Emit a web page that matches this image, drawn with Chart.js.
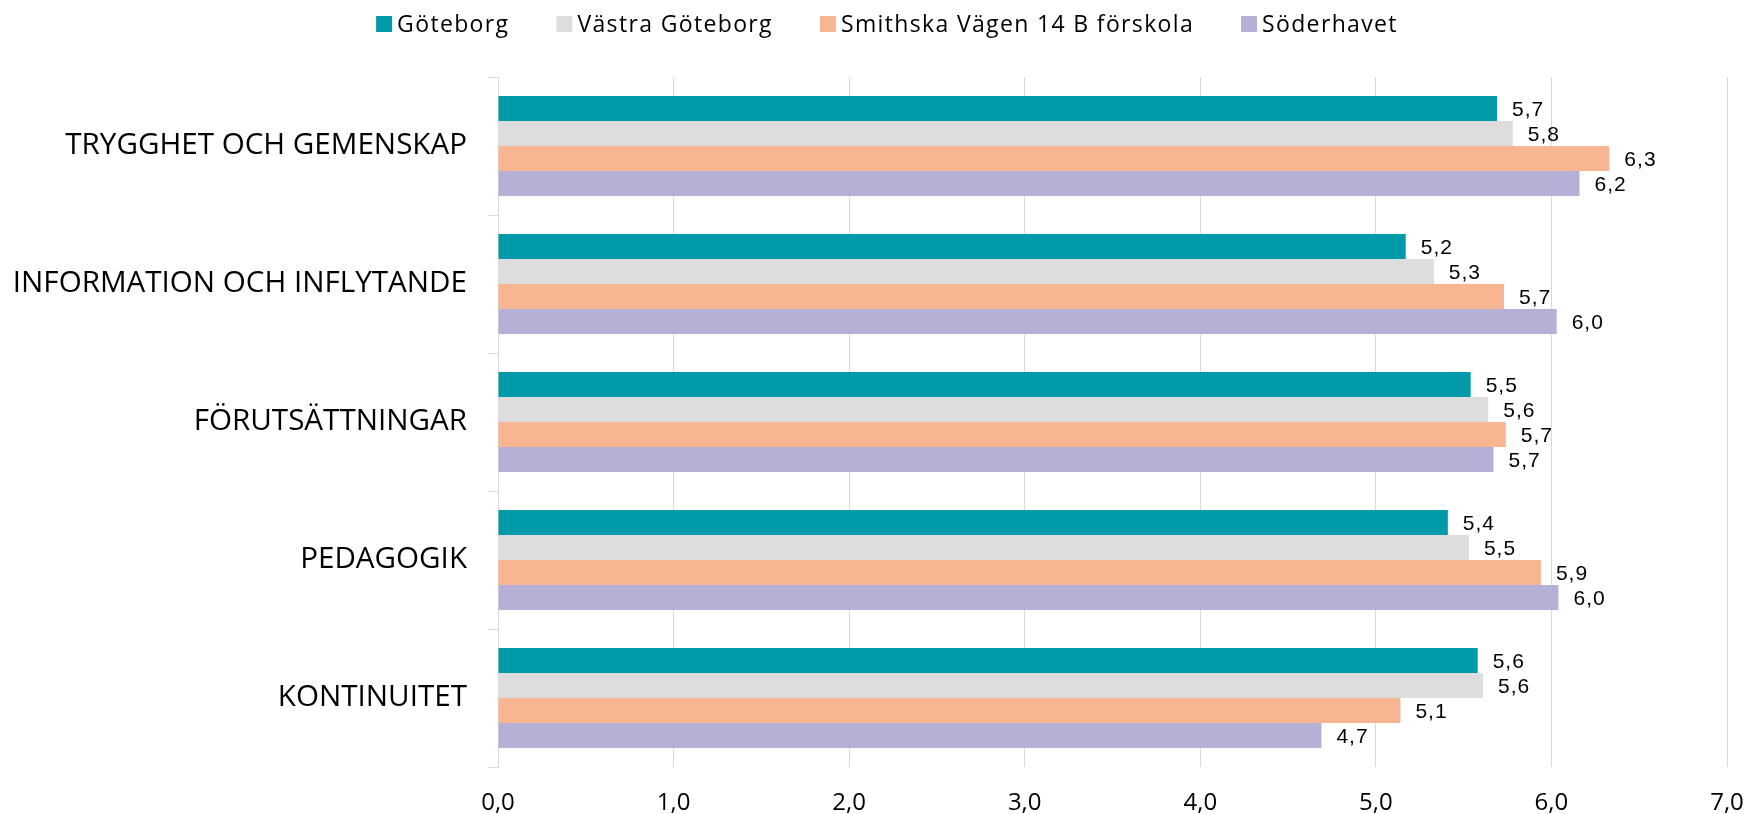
<!DOCTYPE html>
<html>
<head>
<meta charset="utf-8">
<script src="https://cdn.jsdelivr.net/npm/chart.js@4.4.1/dist/chart.umd.min.js"></script>
<style>
  body { margin: 0; background: #fff; }
  #wrap { width: 1746px; height: 814px; }
</style>
</head>
<body>
<div id="wrap"><canvas id="myChart"></canvas></div>
<script>
var categories = ['TRYGGHET OCH GEMENSKAP', 'INFORMATION OCH INFLYTANDE', 'FÖRUTSÄTTNINGAR', 'PEDAGOGIK', 'KONTINUITET'];
var seriesNames = ['Göteborg', 'Västra Göteborg', 'Smithska Vägen 14 B förskola', 'Söderhavet'];
var goteborg = [5.69, 5.17, 5.54, 5.41, 5.58];
var vastraGoteborg = [5.78, 5.33, 5.64, 5.53, 5.61];
var smithska = [6.33, 5.73, 5.74, 5.94, 5.14];
var soderhavet = [6.16, 6.03, 5.67, 6.04, 4.69];
var xTicks = [0, 1, 2, 3, 4, 5, 6, 7];
var colors = ['#009aa8', '#dddddd', '#f8b592', '#b5b0d5'];

function fmt(v) {
    return v.toFixed(1).replace('.', ',');
}

var allSeries = [goteborg, vastraGoteborg, smithska, soderhavet];
var datasets = allSeries.map(function (d, i) {
    return {
        label: seriesNames[i],
        data: d,
        backgroundColor: colors[i],
        borderWidth: 0,
        categoryPercentage: 0.725,
        barPercentage: 1.0
    };
});

// value labels to the right of each bar
var valueLabels = {
    id: 'valueLabels',
    afterDatasetsDraw: function (chart) {
        var ctx = chart.ctx;
        ctx.save();
        ctx.font = '21px "Liberation Sans", Arial, sans-serif';
        ctx.letterSpacing = '1px';
        ctx.fillStyle = '#000';
        ctx.textAlign = 'left';
        ctx.textBaseline = 'middle';
        chart.data.datasets.forEach(function (ds, i) {
            chart.getDatasetMeta(i).data.forEach(function (bar, j) {
                ctx.fillText(fmt(ds.data[j]), bar.x + 15, bar.y + 2);
            });
        });
        ctx.restore();
    }
};

// legend drawn by hand so the spacing matches
var topLegend = {
    id: 'topLegend',
    afterDraw: function (chart) {
        var ctx = chart.ctx;
        var box = 16, gap = 5, itemGap = 47, cy = 24;
        ctx.save();
        ctx.font = '23px "Open Sans", sans-serif';
        ctx.letterSpacing = '1.35px';
        ctx.textBaseline = 'middle';
        ctx.textAlign = 'left';
        var widths = seriesNames.map(function (n) { return ctx.measureText(n).width; });
        var total = 0;
        widths.forEach(function (w) { total += box + gap + w; });
        total += itemGap * (widths.length - 1);
        var x = 887 - total / 2;
        seriesNames.forEach(function (n, i) {
            ctx.fillStyle = colors[i];
            ctx.fillRect(x, cy - box / 2, box, box);
            ctx.fillStyle = '#000';
            ctx.fillText(n, x + box + gap, cy + 1);
            x += box + gap + widths[i] + itemGap;
        });
        ctx.restore();
    }
};

var ctx = document.getElementById('myChart').getContext('2d');
var chart = new Chart(ctx, {
    type: 'bar',
    data: {
        labels: categories,
        datasets: datasets
    },
    plugins: [valueLabels, topLegend],
    options: {
        indexAxis: 'y',
        responsive: true,
        maintainAspectRatio: false,
        animation: false,
        layout: {
            padding: { top: 77, left: 15, right: 19, bottom: 0 }
        },
        plugins: {
            legend: { display: false },
            tooltip: { enabled: false }
        },
        scales: {
            x: {
                min: 0,
                max: 7,
                afterBuildTicks: function (scale) {
                    scale.ticks = xTicks.map(function (v) { return { value: v }; });
                },
                afterFit: function (scale) {
                    scale.height = 47;
                    scale.paddingLeft = 0;
                    scale.paddingRight = 0;
                },
                grid: {
                    color: '#d9d9d9',
                    lineWidth: 1,
                    drawTicks: false
                },
                border: { display: false },
                ticks: {
                    padding: 22,
                    maxRotation: 0,
                    color: '#000',
                    font: { family: '"Open Sans", sans-serif', size: 24 },
                    callback: function (v) { return fmt(v); }
                }
            },
            y: {
                afterFit: function (scale) { scale.width = 483; },
                grid: {
                    color: '#d9d9d9',
                    drawOnChartArea: false,
                    tickLength: 10
                },
                border: { display: true, color: '#d9d9d9' },
                ticks: {
                    padding: 21,
                    color: '#000',
                    font: { family: '"Open Sans", sans-serif', size: 29.6 }
                }
            }
        }
    }
});
</script>
</body>
</html>
